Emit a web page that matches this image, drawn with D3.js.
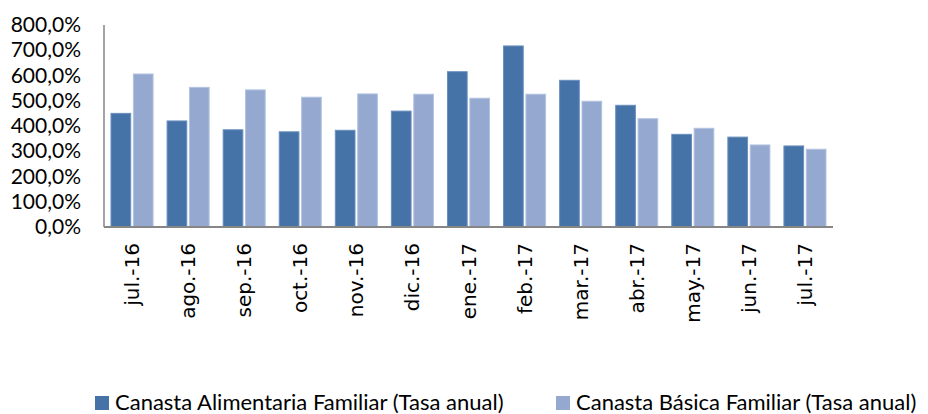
<!DOCTYPE html>
<html>
<head>
<meta charset="utf-8">
<script src="https://cdn.jsdelivr.net/npm/d3@7"></script>
<style>
    body { margin: 0; background: #fff; }
    svg { display: block; }
</style>
</head>
<body>
<div id="chart"></div>
<script>
const months = ["jul.-16", "ago.-16", "sep.-16", "oct.-16", "nov.-16", "dic.-16", "ene.-17",
    "feb.-17", "mar.-17", "abr.-17", "may.-17", "jun.-17", "jul.-17"];
const alimentaria = [450, 420, 385, 377, 383, 459, 615, 717, 581, 482, 367, 356, 321];
const basica = [606, 553, 543, 514, 527, 526, 510, 526, 498, 429, 391, 325, 308];
const seriesNames = ["Canasta Alimentaria Familiar (Tasa anual)", "Canasta Básica Familiar (Tasa anual)"];
const yTicks = [0, 100, 200, 300, 400, 500, 600, 700, 800];

const colors = ["#4572a7", "#95a9d0"];
const strokes = ["#6a8fbd", "#b3c3e0"];

const width = 928, height = 414;
const plot = { left: 104, right: 833, top: 25, bottom: 227 };

const svg = d3.select("#chart").append("svg")
    .attr("width", width)
    .attr("height", height);

const x = d3.scaleBand()
    .domain(months)
    .range([plot.left, plot.right])
    .paddingInner(0.25)
    .paddingOuter(0.125);

const xSub = d3.scaleBand()
    .domain([0, 1])
    .range([0, x.bandwidth()])
    .paddingInner(0.12);

const y = d3.scaleLinear()
    .domain([0, 800])
    .range([plot.bottom, plot.top]);

const fmt = v => d3.format(".1f")(v).replace(".", ",") + "%";

// y axis labels
svg.append("g")
    .attr("transform", `translate(${plot.left}, 0)`)
    .call(d3.axisLeft(y).tickValues(yTicks).tickFormat(fmt).tickSize(0).tickPadding(23))
    .call(g => g.select(".domain").remove())
    .selectAll("text")
    .style("font-family", "Lato, sans-serif")
    .style("font-size", "21px")
    .attr("fill", "#000");

// bars
const data = months.map((m, i) => ({ month: m, values: [alimentaria[i], basica[i]] }));

const groups = svg.append("g").selectAll("g")
    .data(data)
    .enter()
    .append("g")
    .attr("transform", d => `translate(${x(d.month)}, 0)`);

groups.selectAll("rect")
    .data(d => d.values.map((v, k) => ({ v, k })))
    .enter()
    .append("rect")
    .attr("x", d => xSub(d.k))
    .attr("y", d => y(d.v))
    .attr("width", xSub.bandwidth())
    .attr("height", d => y(0) - y(d.v))
    .attr("fill", d => colors[d.k])
    .attr("stroke", d => strokes[d.k])
    .attr("stroke-width", 1);

// axis lines
svg.append("line")
    .attr("x1", plot.left).attr("x2", plot.left)
    .attr("y1", plot.top).attr("y2", plot.bottom)
    .attr("stroke", "#868686")
    .attr("stroke-width", 1.5);

svg.append("g")
    .attr("transform", `translate(0, ${plot.bottom})`)
    .call(d3.axisBottom(x).tickSize(0).tickPadding(0))
    .call(g => g.select(".domain")
        .attr("d", `M${plot.left},0H${plot.right}`)
        .attr("stroke", "#868686")
        .attr("stroke-width", 2))
    .selectAll("text")
    .attr("transform", "rotate(-90)")
    .attr("x", -16)
    .attr("y", 0)
    .attr("dy", "0.35em")
    .attr("text-anchor", "end")
    .attr("fill", "#000")
    .style("font-family", "'DejaVu Sans', sans-serif")
    .style("font-size", "20px");

// legend
const legendX = [95, 556];
const legend = svg.append("g").selectAll("g")
    .data(seriesNames)
    .enter()
    .append("g")
    .attr("transform", (d, i) => `translate(${legendX[i]}, 396)`);

legend.append("rect")
    .attr("width", 14)
    .attr("height", 14)
    .attr("fill", (d, i) => colors[i]);

legend.append("text")
    .attr("x", 20)
    .attr("y", 6)
    .attr("dy", "0.35em")
    .style("font-family", "Lato, sans-serif")
    .style("font-size", "22px")
    .text(d => d);
</script>
</body>
</html>
